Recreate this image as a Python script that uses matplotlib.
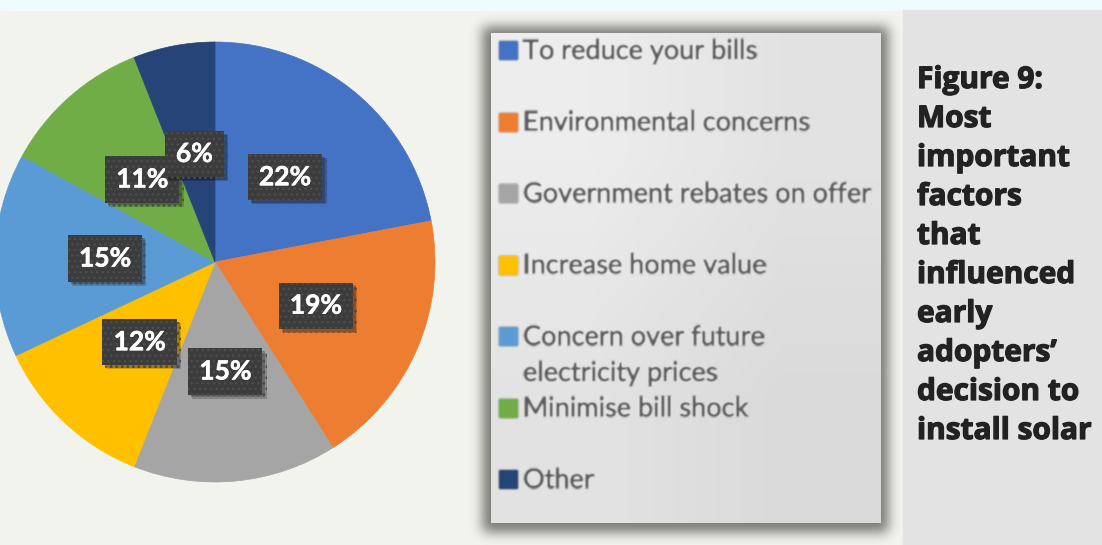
import matplotlib.pyplot as plt
import numpy as np
from matplotlib.patches import Rectangle
from matplotlib import patheffects as pe

factors = [
    "To reduce your bills",
    "Environmental concerns",
    "Government rebates on offer",
    "Increase home value",
    "Concern over future\nelectricity prices",
    "Minimise bill shock",
    "Other",
]
shares = [22, 19, 15, 12, 15, 11, 6]
colors = ["#4472c4", "#ed7d31", "#a5a5a5", "#ffc000", "#5b9bd5", "#70ad47", "#264478"]
caption = ["Figure 9:", "Most", "important", "factors", "that", "influenced",
           "early", "adopters\u2019", "decision to", "install solar"]

W, H = 1102, 545


def fx(px):
    return px / W


def fy(py):
    return 1 - py / H


def blur(sigma):
    # gaussian blur used as an agg filter
    def f(img, dpi):
        s = sigma * dpi / 100
        pad = int(np.ceil(3 * s))
        src = np.pad(img, ((pad, pad), (pad, pad), (0, 0)))
        k = np.exp(-0.5 * (np.arange(-pad, pad + 1) / s) ** 2)
        k /= k.sum()
        tmp = np.zeros_like(src)
        for i, w in enumerate(k):
            tmp += w * np.roll(src, i - pad, axis=0)
        out = np.zeros_like(src)
        for i, w in enumerate(k):
            out += w * np.roll(tmp, i - pad, axis=1)
        return out, -pad, -pad
    return f


fig = plt.figure(figsize=(W / 100, H / 100), dpi=100)
fig.patch.set_facecolor("#f3f3ee")
fig.add_artist(Rectangle((0, fy(10)), 1, 10 / H, transform=fig.transFigure,
                         color="#f0fbfe", zorder=-3))
fig.add_artist(Rectangle((fx(903), 0), fx(W - 903), fy(10), transform=fig.transFigure,
                         color="#e3e3e3", zorder=-3))

# pie
ax = fig.add_axes([fx(-5), fy(482), fx(440), 440 / H])
wedges, _, pcts = ax.pie(shares, colors=colors, startangle=90, counterclock=False,
                         autopct=lambda p: f"{p:.0f}%", pctdistance=0.5,
                         textprops=dict(color="white", fontsize=19, fontweight="bold",
                                        family="Lato"))
for w in wedges:
    w.set_edgecolor(w.get_facecolor())
    w.set_linewidth(0.5)
for t in pcts:
    t.set_bbox(dict(boxstyle="square,pad=0.42", fc="#3c3c3c", ec="#4d4d4d",
                    lw=0, hatch="..."))
    t.get_bbox_patch().set_path_effects(
        [pe.SimplePatchShadow(offset=(3, -3), shadow_rgbFace="black", alpha=0.18),
         pe.SimplePatchShadow(offset=(2, -2), shadow_rgbFace="black", alpha=0.22),
         pe.Normal()])
    t.set_path_effects([pe.withStroke(linewidth=0.4, foreground="white")])
ax.set_xlim(-1, 1)
ax.set_ylim(-1, 1)
ax.set_aspect("auto")

# legend panel with soft shadow
shadow = Rectangle((fx(483), fy(531)), fx(404), 504 / H, transform=fig.transFigure,
                   color="black", alpha=0.5, zorder=-1)
shadow.set_agg_filter(blur(6))
fig.add_artist(shadow)

lax = fig.add_axes([fx(491), fy(523), fx(390), 490 / H])
lax.set_xlim(0, 390)
lax.set_ylim(490, 0)
grad = np.array([[0.93, 0.89], [0.89, 0.855]])
lax.imshow(np.dstack([grad] * 3), extent=(0, 390, 490, 0), aspect="auto",
           interpolation="bilinear", zorder=0)
lax.set_xticks([])
lax.set_yticks([])
for s in lax.spines.values():
    s.set_visible(False)

row0, pitch, line_h = 17, 71.5, 36
for i, (lab, c) in enumerate(zip(factors, colors)):
    yc = row0 + i * pitch
    m = Rectangle((8, yc - 9), 18, 18, color=c, zorder=2)
    m.set_agg_filter(blur(0.8))
    lax.add_patch(m)
    for j, part in enumerate(lab.split("\n")):
        t = lax.text(32, yc + 9 + j * line_h, part, va="baseline", ha="left",
                     fontsize=19.5, family="Lato", color="#595959", zorder=3)
        t.set_path_effects([pe.withStroke(linewidth=0.5, foreground="#595959")])
        t.set_agg_filter(blur(0.9))

# caption
for i, line in enumerate(caption):
    fig.text(fx(917), fy(88 + 39 * i), line, va="baseline", ha="left",
             fontsize=21.5, family="Open Sans", fontweight="bold", color="#222222",
             path_effects=[pe.withStroke(linewidth=0.9, foreground="#222222")])

fig.savefig("out.png", dpi=100)
